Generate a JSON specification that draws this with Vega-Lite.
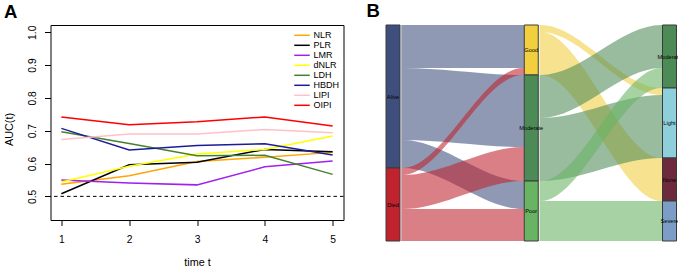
{
  "$schema": "https://vega.github.io/schema/vega-lite/v6.json",
  "padding": {"left": 2.5, "top": 2, "right": 0, "bottom": 0},
  "spacing": 42,
  "bounds": "flush",
  "config": {"font": "Liberation Sans", "view": {"stroke": null}, "axis": {"labelOverlap": false, "labelFlush": false, "labelSeparation": 0}},
  "resolve": {"scale": {"color": "independent", "x": "independent", "y": "independent"}, "legend": {"color": "independent"}},
  "datasets": {
    "auc": [
      {"t": 1, "m": "NLR", "auc": 0.537}, {"t": 2, "m": "NLR", "auc": 0.563}, {"t": 3, "m": "NLR", "auc": 0.606}, {"t": 4, "m": "NLR", "auc": 0.619}, {"t": 5, "m": "NLR", "auc": 0.634},
      {"t": 1, "m": "PLR", "auc": 0.508}, {"t": 2, "m": "PLR", "auc": 0.596}, {"t": 3, "m": "PLR", "auc": 0.604}, {"t": 4, "m": "PLR", "auc": 0.643}, {"t": 5, "m": "PLR", "auc": 0.636},
      {"t": 1, "m": "LMR", "auc": 0.550}, {"t": 2, "m": "LMR", "auc": 0.541}, {"t": 3, "m": "LMR", "auc": 0.535}, {"t": 4, "m": "LMR", "auc": 0.590}, {"t": 5, "m": "LMR", "auc": 0.608},
      {"t": 1, "m": "dNLR", "auc": 0.544}, {"t": 2, "m": "dNLR", "auc": 0.592}, {"t": 3, "m": "dNLR", "auc": 0.629}, {"t": 4, "m": "dNLR", "auc": 0.643}, {"t": 5, "m": "dNLR", "auc": 0.684},
      {"t": 1, "m": "LDH", "auc": 0.697}, {"t": 2, "m": "LDH", "auc": 0.661}, {"t": 3, "m": "LDH", "auc": 0.624}, {"t": 4, "m": "LDH", "auc": 0.625}, {"t": 5, "m": "LDH", "auc": 0.567},
      {"t": 1, "m": "HBDH", "auc": 0.707}, {"t": 2, "m": "HBDH", "auc": 0.641}, {"t": 3, "m": "HBDH", "auc": 0.655}, {"t": 4, "m": "HBDH", "auc": 0.660}, {"t": 5, "m": "HBDH", "auc": 0.626},
      {"t": 1, "m": "LIPI", "auc": 0.673}, {"t": 2, "m": "LIPI", "auc": 0.690}, {"t": 3, "m": "LIPI", "auc": 0.690}, {"t": 4, "m": "LIPI", "auc": 0.704}, {"t": 5, "m": "LIPI", "auc": 0.694},
      {"t": 1, "m": "OIPI", "auc": 0.742}, {"t": 2, "m": "OIPI", "auc": 0.718}, {"t": 3, "m": "OIPI", "auc": 0.727}, {"t": 4, "m": "OIPI", "auc": 0.742}, {"t": 5, "m": "OIPI", "auc": 0.714}
    ],
    "flows": [
      {"f": 1, "src": "Alive", "x": 1.06, "lo": 0, "hi": 43}, {"f": 1, "src": "Alive", "x": 1.07, "lo": 0, "hi": 43}, {"f": 1, "src": "Alive", "x": 1.94, "lo": 0, "hi": 43}, {"f": 1, "src": "Alive", "x": 1.95, "lo": 0, "hi": 43},
      {"f": 2, "src": "Alive", "x": 1.06, "lo": 43, "hi": 115}, {"f": 2, "src": "Alive", "x": 1.07, "lo": 43, "hi": 115}, {"f": 2, "src": "Alive", "x": 1.94, "lo": 50, "hi": 122}, {"f": 2, "src": "Alive", "x": 1.95, "lo": 50, "hi": 122},
      {"f": 3, "src": "Alive", "x": 1.06, "lo": 115, "hi": 143}, {"f": 3, "src": "Alive", "x": 1.07, "lo": 115, "hi": 143}, {"f": 3, "src": "Alive", "x": 1.94, "lo": 156, "hi": 184}, {"f": 3, "src": "Alive", "x": 1.95, "lo": 156, "hi": 184},
      {"f": 4, "src": "Died", "x": 1.06, "lo": 143, "hi": 150}, {"f": 4, "src": "Died", "x": 1.07, "lo": 143, "hi": 150}, {"f": 4, "src": "Died", "x": 1.94, "lo": 43, "hi": 50}, {"f": 4, "src": "Died", "x": 1.95, "lo": 43, "hi": 50},
      {"f": 5, "src": "Died", "x": 1.06, "lo": 150, "hi": 184}, {"f": 5, "src": "Died", "x": 1.07, "lo": 150, "hi": 184}, {"f": 5, "src": "Died", "x": 1.94, "lo": 122, "hi": 156}, {"f": 5, "src": "Died", "x": 1.95, "lo": 122, "hi": 156},
      {"f": 6, "src": "Died", "x": 1.06, "lo": 184, "hi": 216}, {"f": 6, "src": "Died", "x": 1.07, "lo": 184, "hi": 216}, {"f": 6, "src": "Died", "x": 1.94, "lo": 184, "hi": 216}, {"f": 6, "src": "Died", "x": 1.95, "lo": 184, "hi": 216},
      {"f": 7, "src": "Good", "x": 2.06, "lo": 0, "hi": 7}, {"f": 7, "src": "Good", "x": 2.07, "lo": 0, "hi": 7}, {"f": 7, "src": "Good", "x": 2.94, "lo": 63, "hi": 70}, {"f": 7, "src": "Good", "x": 2.95, "lo": 63, "hi": 70},
      {"f": 8, "src": "Good", "x": 2.06, "lo": 7, "hi": 50}, {"f": 8, "src": "Good", "x": 2.07, "lo": 7, "hi": 50}, {"f": 8, "src": "Good", "x": 2.94, "lo": 133, "hi": 176}, {"f": 8, "src": "Good", "x": 2.95, "lo": 133, "hi": 176},
      {"f": 9, "src": "Moderate", "x": 2.06, "lo": 50, "hi": 93}, {"f": 9, "src": "Moderate", "x": 2.07, "lo": 50, "hi": 93}, {"f": 9, "src": "Moderate", "x": 2.94, "lo": 0, "hi": 43}, {"f": 9, "src": "Moderate", "x": 2.95, "lo": 0, "hi": 43},
      {"f": 10, "src": "Moderate", "x": 2.06, "lo": 93, "hi": 156}, {"f": 10, "src": "Moderate", "x": 2.07, "lo": 93, "hi": 156}, {"f": 10, "src": "Moderate", "x": 2.94, "lo": 70, "hi": 133}, {"f": 10, "src": "Moderate", "x": 2.95, "lo": 70, "hi": 133},
      {"f": 11, "src": "Poor", "x": 2.06, "lo": 156, "hi": 176}, {"f": 11, "src": "Poor", "x": 2.07, "lo": 156, "hi": 176}, {"f": 11, "src": "Poor", "x": 2.94, "lo": 43, "hi": 63}, {"f": 11, "src": "Poor", "x": 2.95, "lo": 43, "hi": 63},
      {"f": 12, "src": "Poor", "x": 2.06, "lo": 176, "hi": 216}, {"f": 12, "src": "Poor", "x": 2.07, "lo": 176, "hi": 216}, {"f": 12, "src": "Poor", "x": 2.94, "lo": 176, "hi": 216}, {"f": 12, "src": "Poor", "x": 2.95, "lo": 176, "hi": 216}
    ],
    "nodes": [
      {"stage": 1, "stratum": "Alive", "lo": 0, "hi": 143},
      {"stage": 1, "stratum": "Died", "lo": 143, "hi": 216},
      {"stage": 2, "stratum": "Good", "lo": 0, "hi": 50},
      {"stage": 2, "stratum": "Moderate", "lo": 50, "hi": 156},
      {"stage": 2, "stratum": "Poor", "lo": 156, "hi": 216},
      {"stage": 3, "stratum": "Moderate", "lo": 0, "hi": 63},
      {"stage": 3, "stratum": "Light", "lo": 63, "hi": 133},
      {"stage": 3, "stratum": "None", "lo": 133, "hi": 176},
      {"stage": 3, "stratum": "Severe", "lo": 176, "hi": 216}
    ]
  },
  "hconcat": [
    {
      "width": 293,
      "height": 195,
      "title": {"text": "A", "anchor": "start", "frame": "group", "dx": -46.5, "offset": 4, "fontSize": 18.5, "fontWeight": "bold", "font": "Liberation Sans", "color": "black"},
      "view": {"stroke": "black", "strokeWidth": 1},
      "layer": [
        {
          "data": {"values": [{}]},
          "mark": {"type": "rule", "strokeDash": [3.5, 3], "color": "black", "strokeWidth": 1},
          "encoding": {"y": {"datum": 0.5, "type": "quantitative", "scale": {"domain": [0.428, 1.022], "nice": false, "zero": false},
              "axis": {"values": [0.5, 0.6, 0.7, 0.8, 0.9, 1.0], "format": ".1f", "title": "AUC(t)", "domain": false, "grid": false, "tickSize": 6, "tickColor": "black", "tickWidth": 1, "labelFontSize": 10.3, "labelColor": "black", "labelAngle": -90, "labelAlign": "center", "labelBaseline": "middle", "labelPadding": 12, "labelFlush": false, "labelOverlap": false, "labelBound": false, "titleFontSize": 10.8, "titleFontWeight": "normal", "titleColor": "black", "titleX": -40.7, "titleY": 104, "titleAngle": -90, "titleAlign": "center", "titleBaseline": "middle"}}}
        },
        {
          "data": {"name": "auc"},
          "mark": {"type": "line", "strokeWidth": 1.5},
          "encoding": {
            "x": {"field": "t", "type": "quantitative", "scale": {"domain": [0.84, 5.16], "nice": false, "zero": false},
              "axis": {"values": [1, 2, 3, 4, 5], "title": "time t", "domain": false, "grid": false, "tickSize": 5.5, "tickColor": "black", "tickWidth": 1, "labelFontSize": 10.3, "labelColor": "black", "labelPadding": 13.8, "labelBaseline": "middle", "labelFlush": false, "labelOverlap": false, "titleFontSize": 10.8, "titleFontWeight": "normal", "titleColor": "black", "titleY": 42.7, "titleBaseline": "middle"}},
            "y": {"field": "auc", "type": "quantitative", "scale": {"domain": [0.428, 1.022], "nice": false, "zero": false},
              "axis": {"values": [0.5, 0.6, 0.7, 0.8, 0.9, 1.0], "format": ".1f", "title": "AUC(t)", "domain": false, "grid": false, "tickSize": 6, "tickColor": "black", "tickWidth": 1, "labelFontSize": 10.3, "labelColor": "black", "labelAngle": -90, "labelAlign": "center", "labelBaseline": "middle", "labelPadding": 12, "labelFlush": false, "labelOverlap": false, "labelBound": false, "titleFontSize": 10.8, "titleFontWeight": "normal", "titleColor": "black", "titleX": -40.7, "titleY": 104, "titleAngle": -90, "titleAlign": "center", "titleBaseline": "middle"}},
            "color": {"field": "m", "type": "nominal",
              "scale": {"domain": ["NLR", "PLR", "LMR", "dNLR", "LDH", "HBDH", "LIPI", "OIPI"], "range": ["#ffa500", "#000000", "#a020f0", "#ffff00", "#45802f", "#1c1c96", "#ffc0cb", "#ff0000"]},
              "legend": {"orient": "none", "legendX": 247, "legendY": 5.8, "title": null, "symbolType": "M-3.1,0H3.1", "symbolSize": 25, "symbolStrokeWidth": 1.5, "labelFontSize": 9, "labelColor": "black", "labelOffset": 7, "rowPadding": 0, "padding": 0}}
          }
        }
      ]
    },
    {
      "width": 294,
      "height": 216,
      "title": {"text": "B", "anchor": "start", "frame": "group", "dx": -19, "offset": 4, "fontSize": 18.5, "fontWeight": "bold", "font": "Liberation Sans", "color": "black"},
      "view": {"stroke": null},
      "layer": [
        {
          "data": {"name": "flows"},
          "mark": {"type": "area", "interpolate": "monotone", "fillOpacity": 0.58},
          "encoding": {
            "x": {"field": "x", "type": "quantitative", "scale": {"domain": [0.94575, 3.07233], "nice": false, "zero": false, "padding": 0}, "axis": null},
            "y": {"field": "lo", "type": "quantitative", "scale": {"domain": [0, 216], "reverse": true, "nice": false, "zero": false}, "axis": null},
            "y2": {"field": "hi"},
            "color": {"field": "src", "type": "nominal", "scale": {"domain": ["Alive", "Died", "Good", "Moderate", "Poor", "Light", "None", "Severe"], "range": ["#3f4f7d", "#c0232e", "#f1cf3e", "#4d8b56", "#68b462", "#8dd0dc", "#6e2a3d", "#7c9ec6"]}, "legend": null},
            "detail": {"field": "f", "type": "nominal"}
          }
        },
        {
          "data": {"name": "nodes"},
          "mark": {"type": "bar", "width": 14, "stroke": "#3a3a3a", "strokeWidth": 1, "opacity": 1},
          "encoding": {
            "x": {"field": "stage", "type": "quantitative"},
            "y": {"field": "lo", "type": "quantitative"},
            "y2": {"field": "hi"},
            "color": {"field": "stratum", "type": "nominal", "legend": null}
          }
        },
        {
          "data": {"name": "nodes"},
          "transform": [{"calculate": "(datum.lo + datum.hi) / 2", "as": "mid"}],
          "mark": {"type": "text", "fontSize": 5.7, "color": "black", "clip": true},
          "encoding": {
            "x": {"field": "stage", "type": "quantitative"},
            "y": {"field": "mid", "type": "quantitative"},
            "text": {"field": "stratum"}
          }
        }
      ]
    }
  ]
}
